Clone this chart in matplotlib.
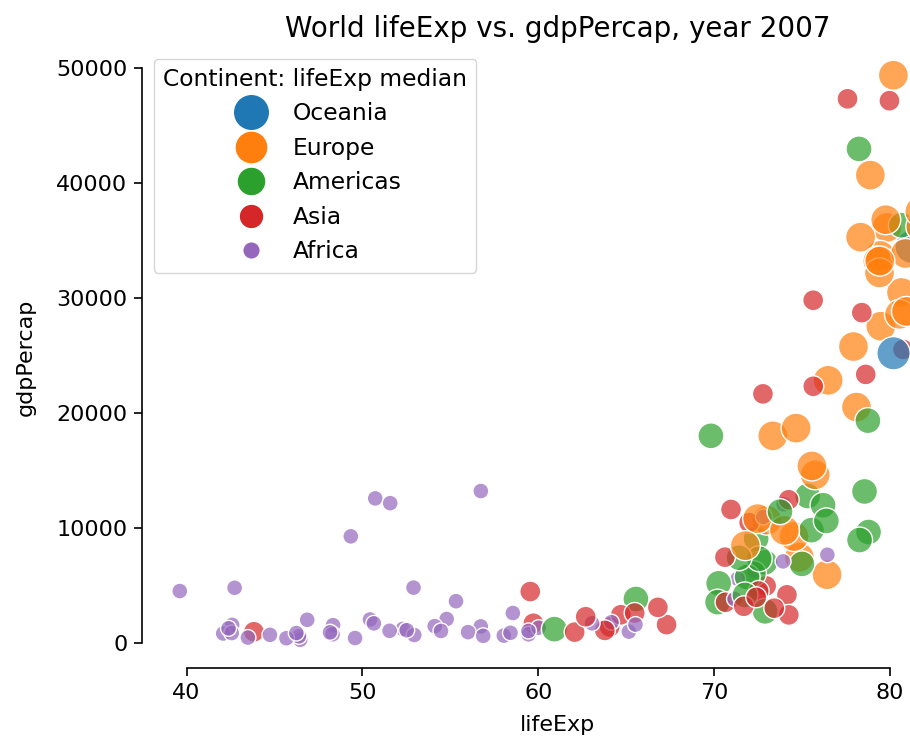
import matplotlib
matplotlib.use("Agg")
import matplotlib.pyplot as plt
from matplotlib.colors import to_rgba
from matplotlib.lines import Line2D
import numpy as np

# gapminder 2007, rows in country order
country = ["Afghanistan", "Albania", "Algeria", "Angola", "Argentina", "Australia", "Austria",
           "Bahrain", "Bangladesh", "Belgium", "Benin", "Bolivia", "Bosnia and Herzegovina",
           "Botswana", "Brazil", "Bulgaria", "Burkina Faso", "Burundi", "Cambodia", "Cameroon",
           "Canada", "Central African Republic", "Chad", "Chile", "China", "Colombia", "Comoros",
           "Congo, Dem. Rep.", "Congo, Rep.", "Costa Rica", "Cote d'Ivoire", "Croatia", "Cuba",
           "Czech Republic", "Denmark", "Djibouti", "Dominican Republic", "Ecuador", "Egypt",
           "El Salvador", "Equatorial Guinea", "Eritrea", "Ethiopia", "Finland", "France", "Gabon",
           "Gambia", "Germany", "Ghana", "Greece", "Guatemala", "Guinea", "Guinea-Bissau", "Haiti",
           "Honduras", "Hong Kong, China", "Hungary", "Iceland", "India", "Indonesia", "Iran",
           "Iraq", "Ireland", "Israel", "Italy", "Jamaica", "Japan", "Jordan", "Kenya",
           "Korea, Dem. Rep.", "Korea, Rep.", "Kuwait", "Lebanon", "Lesotho", "Liberia", "Libya",
           "Madagascar", "Malawi", "Malaysia", "Mali", "Mauritania", "Mauritius", "Mexico",
           "Mongolia", "Montenegro", "Morocco", "Mozambique", "Myanmar", "Namibia", "Nepal",
           "Netherlands", "New Zealand", "Nicaragua", "Niger", "Nigeria", "Norway", "Oman",
           "Pakistan", "Panama", "Paraguay", "Peru", "Philippines", "Poland", "Portugal",
           "Puerto Rico", "Reunion", "Romania", "Rwanda", "Sao Tome and Principe", "Saudi Arabia",
           "Senegal", "Serbia", "Sierra Leone", "Singapore", "Slovak Republic", "Slovenia",
           "Somalia", "South Africa", "Spain", "Sri Lanka", "Sudan", "Swaziland", "Sweden",
           "Switzerland", "Syria", "Taiwan", "Tanzania", "Thailand", "Togo", "Trinidad and Tobago",
           "Tunisia", "Turkey", "Uganda", "United Kingdom", "United States", "Uruguay",
           "Venezuela", "Vietnam", "West Bank and Gaza", "Yemen, Rep.", "Zambia", "Zimbabwe"]

continent = ["Asia", "Europe", "Africa", "Africa", "Americas", "Oceania", "Europe",
             "Asia", "Asia", "Europe", "Africa", "Americas", "Europe",
             "Africa", "Americas", "Europe", "Africa", "Africa", "Asia", "Africa",
             "Americas", "Africa", "Africa", "Americas", "Asia", "Americas", "Africa",
             "Africa", "Africa", "Americas", "Africa", "Europe", "Americas",
             "Europe", "Europe", "Africa", "Americas", "Americas", "Africa",
             "Americas", "Africa", "Africa", "Africa", "Europe", "Europe", "Africa",
             "Africa", "Europe", "Africa", "Europe", "Americas", "Africa", "Africa", "Americas",
             "Americas", "Asia", "Europe", "Europe", "Asia", "Asia", "Asia",
             "Asia", "Europe", "Asia", "Europe", "Americas", "Asia", "Asia", "Africa",
             "Asia", "Asia", "Asia", "Asia", "Africa", "Africa", "Africa",
             "Africa", "Africa", "Asia", "Africa", "Africa", "Africa", "Americas",
             "Asia", "Europe", "Africa", "Africa", "Asia", "Africa", "Asia",
             "Europe", "Oceania", "Americas", "Africa", "Africa", "Europe", "Asia",
             "Asia", "Americas", "Americas", "Americas", "Asia", "Europe", "Europe",
             "Americas", "Africa", "Europe", "Africa", "Africa", "Asia",
             "Africa", "Europe", "Africa", "Asia", "Europe", "Europe",
             "Africa", "Africa", "Europe", "Asia", "Africa", "Africa", "Europe",
             "Europe", "Asia", "Asia", "Africa", "Asia", "Africa", "Americas",
             "Africa", "Europe", "Africa", "Europe", "Americas", "Americas",
             "Americas", "Asia", "Asia", "Asia", "Africa", "Africa"]

life_exp = [43.828, 76.423, 72.301, 42.731, 75.320, 81.235, 79.829,
            75.635, 64.062, 79.441, 56.728, 65.554, 74.852,
            50.728, 72.390, 73.005, 52.295, 49.580, 59.723, 50.430,
            80.653, 44.741, 50.651, 78.553, 72.961, 72.889, 65.152,
            46.462, 55.322, 78.782, 48.328, 75.748, 78.273,
            76.486, 78.332, 54.791, 72.235, 74.994, 71.338,
            71.878, 51.579, 58.040, 52.947, 79.313, 80.657, 56.735,
            59.448, 79.406, 60.022, 79.483, 70.259, 56.007, 46.388, 60.916,
            70.198, 82.208, 73.338, 81.757, 64.698, 70.650, 70.964,
            59.545, 78.885, 80.745, 80.546, 72.567, 82.603, 72.535, 54.110,
            67.297, 78.623, 77.588, 71.993, 42.592, 45.678, 73.952,
            59.443, 48.303, 74.241, 54.467, 64.164, 72.801, 76.195,
            66.803, 74.543, 71.164, 42.082, 62.069, 52.906, 63.785,
            79.762, 80.204, 72.899, 56.867, 46.859, 80.196, 75.640,
            65.483, 75.537, 71.752, 71.421, 71.688, 75.563, 78.098,
            78.746, 76.442, 72.476, 46.242, 65.528, 72.777,
            63.062, 74.002, 42.568, 79.972, 74.663, 77.926,
            48.159, 49.339, 80.941, 72.396, 58.556, 39.613, 80.884,
            81.701, 74.143, 78.400, 52.517, 70.616, 58.420, 69.819,
            73.923, 71.777, 51.542, 79.425, 78.242, 76.384,
            73.747, 74.249, 73.422, 62.698, 42.384, 43.487]

gdp_percap = [974.580, 5937.030, 6223.367, 4797.231, 12779.380, 34435.367, 36126.493,
              29796.048, 1391.254, 33692.605, 1441.285, 3822.137, 7446.299,
              12569.852, 9065.801, 10680.793, 1217.033, 430.071, 1713.779, 2042.095,
              36319.235, 706.017, 1704.064, 13171.639, 4959.115, 7006.580, 986.148,
              277.552, 3632.558, 9645.061, 1544.750, 14619.223, 8948.103,
              22833.309, 35278.419, 2082.482, 6025.375, 6873.262, 5581.181,
              5728.354, 12154.090, 641.369, 690.806, 33207.084, 30470.017, 13206.485,
              752.749, 32170.374, 1327.609, 27538.412, 5186.050, 942.654, 579.232, 1201.637,
              3548.331, 39724.979, 18008.944, 36180.789, 2452.210, 3540.652, 11605.714,
              4471.062, 40675.996, 25523.277, 28569.720, 7320.880, 31656.068, 4519.461, 1463.249,
              1593.065, 23348.140, 47306.990, 10461.059, 1569.331, 414.507, 12057.499,
              1044.770, 759.349, 12451.656, 1042.582, 1803.151, 10956.991, 11977.575,
              3095.772, 9253.896, 3820.175, 823.686, 944.000, 4811.060, 1091.360,
              36797.933, 25185.009, 2749.321, 619.677, 2013.977, 49357.190, 22316.193,
              2605.948, 9809.186, 4172.838, 7408.906, 3190.481, 15389.925, 20509.648,
              19328.709, 7670.123, 10808.476, 863.089, 1598.435, 21654.832,
              1712.472, 9786.535, 862.540, 47143.180, 18678.314, 25768.258,
              926.142, 9269.658, 28821.064, 3970.095, 2602.395, 4513.481, 33859.748,
              37506.419, 4184.548, 28718.277, 1107.482, 7458.396, 882.970, 18008.509,
              7092.923, 8458.276, 1056.380, 33203.261, 42951.653, 10611.463,
              11415.806, 2441.577, 3025.350, 2280.770, 1271.212, 469.709]

# continents ordered by median lifeExp, highest first
order = ["Oceania", "Europe", "Americas", "Asia", "Africa"]
palette = {"Oceania": "#1f77b4", "Europe": "#ff7f0e", "Americas": "#2ca02c",
           "Asia": "#d62728", "Africa": "#9467bd"}
# marker diameters (pt) for the points and for the legend keys
diam = {"Oceania": 24.0, "Europe": 21.6, "Americas": 18.7, "Asia": 15.1, "Africa": 11.5}
leg_diam = {"Oceania": 26.2, "Europe": 23.8, "Americas": 20.8, "Asia": 17.8, "Africa": 12.6}

plt.rcParams.update({
    "font.family": "DejaVu Sans",
    "font.size": 16,
    "axes.linewidth": 1.2,
    "xtick.major.size": 5.5,
    "ytick.major.size": 5.5,
    "xtick.major.width": 1.2,
    "ytick.major.width": 1.2,
    "xtick.major.pad": 5,
    "ytick.major.pad": 5,
})

fig = plt.figure(figsize=(9.1, 7.41), dpi=100)
ax = fig.add_axes([142 / 910, 73 / 741, 831.5 / 910, 621 / 741])

x = np.array(life_exp)
y = np.array(gdp_percap)
cols = [to_rgba(palette[c], 0.7) for c in continent]
sizes = [diam[c] ** 2 for c in continent]
ax.scatter(x, y, s=sizes, c=cols, edgecolors="white", linewidths=1.0, zorder=2)

xpad = (x.max() - x.min()) * 0.05
ypad = (y.max() - y.min()) * 0.05
ax.set_xlim(x.min() - xpad, x.max() + xpad)
ax.set_ylim(y.min() - ypad, y.max() + ypad)

ax.set_xticks([40, 50, 60, 70, 80])
ax.set_yticks([0, 10000, 20000, 30000, 40000, 50000])
ax.spines["top"].set_visible(False)
ax.spines["right"].set_visible(False)
ax.spines["bottom"].set_bounds(40, 80)
ax.spines["left"].set_bounds(0, 50000)

ax.set_xlabel("lifeExp", fontsize=16, labelpad=9)
ax.set_ylabel("gdpPercap", fontsize=16, labelpad=15)
ax.set_title("World lifeExp vs. gdpPercap, year 2007", fontsize=20, pad=7.5)

handles = [Line2D([], [], linestyle="", marker="o", markersize=leg_diam[c],
                  markerfacecolor=palette[c], markeredgecolor="white", markeredgewidth=1.0)
           for c in order]
ax.legend(handles, order, title="Continent: lifeExp median", loc="upper left",
          fontsize=16.8, title_fontsize=16.8, labelspacing=0.49, handletextpad=0.8,
          borderaxespad=0.5)

fig.savefig("out.png", dpi=100)
